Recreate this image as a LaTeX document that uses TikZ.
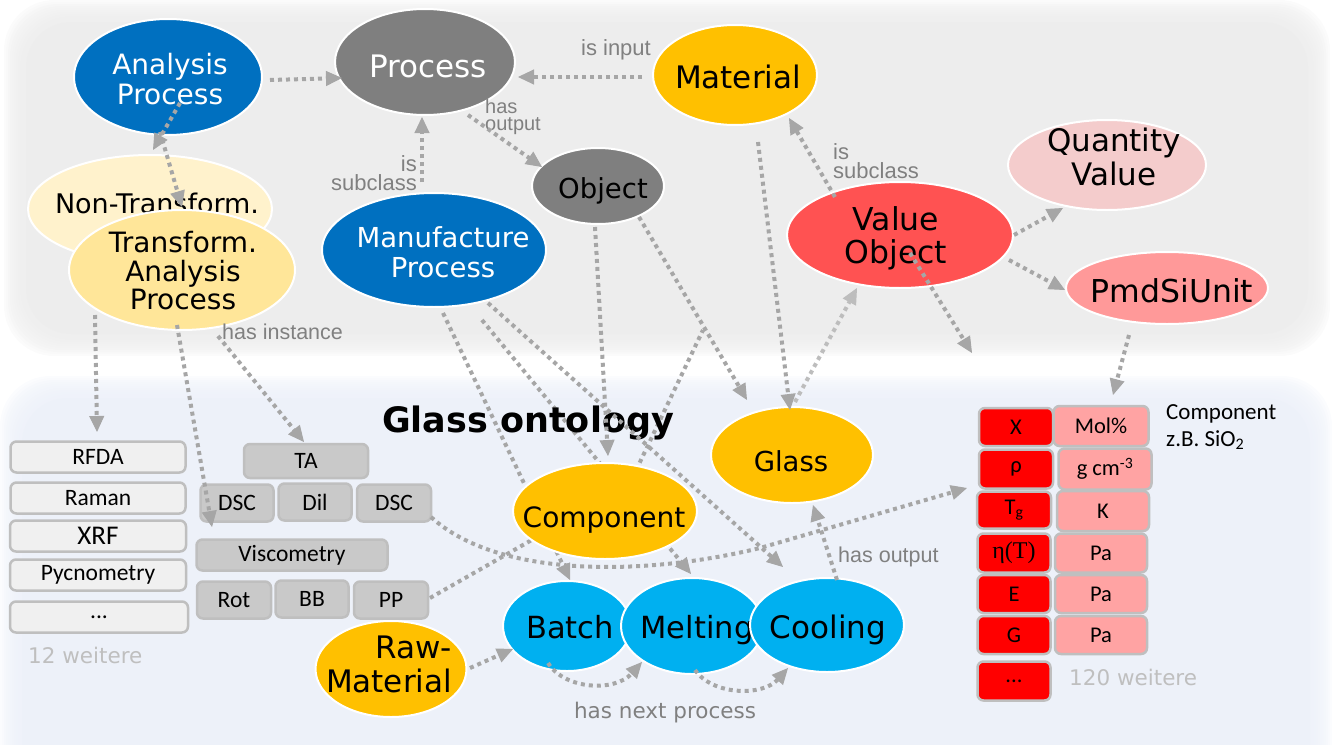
\documentclass[tikz,border=0pt]{standalone}
\usepackage{fontspec}
\setmainfont{DejaVu Sans}
\newfontfamily\vfont{DejaVu Sans}
\newfontfamily\afont{Liberation Sans}
\newfontfamily\cfont{Carlito}
\newfontfamily\sfont{Liberation Serif}
\usetikzlibrary{shapes.geometric,arrows.meta}

\newcommand{\fsz}[2]{\fontsize{#1}{#2}\selectfont}

\definecolor{panelgray}{HTML}{EDEDED}
\definecolor{panelblue}{HTML}{EDF1F9}
\definecolor{cblue}{HTML}{0070C0}
\definecolor{cgray}{HTML}{7F7F7F}
\definecolor{corange}{HTML}{FFC000}
\definecolor{cpale}{HTML}{FFF2CC}
\definecolor{cyell}{HTML}{FFE699}
\definecolor{cred}{HTML}{FF5252}
\definecolor{cqv}{HTML}{F4CCCC}
\definecolor{cunit}{HTML}{FF9999}
\definecolor{ccyan}{HTML}{00B0F0}
\definecolor{lk}{HTML}{A6A6A6}
\definecolor{lklight}{HTML}{BDBDBD}
\definecolor{lbl}{HTML}{808080}
\definecolor{boxline}{HTML}{BFBFBF}
\definecolor{boxlight}{HTML}{F0F0F0}
\definecolor{boxgray}{HTML}{C9C9C9}
\definecolor{cellred}{HTML}{FF0000}
\definecolor{cellpink}{HTML}{FFA3A3}
\definecolor{faint}{HTML}{BFBFBF}

\pgfdeclarelayer{panel}
\pgfdeclarelayer{under}
\pgfdeclarelayer{over}
\pgfsetlayers{panel,under,main,over}

\tikzset{
  ell/.style={ellipse, draw=white, line width=2pt, inner sep=0pt, outer sep=0pt},
  txt/.style={inner sep=0pt, align=center, font=\vfont\fsz{28}{30}},
  lab/.style={inner sep=0pt, text=lbl, font=\afont\fsz{21}{17}},
  lbox/.style={rectangle, rounded corners=6pt, draw=boxline, line width=2.5pt,
    fill=boxlight, inner sep=0pt, font=\cfont\fsz{23.5}{26}},
  gbox/.style={lbox, fill=boxgray},
  rcell/.style={lbox, fill=cellred, font=\cfont\fsz{22.5}{24}},
  pcell/.style={rcell, fill=cellpink},
  link/.style={draw=lk, line width=4pt, dash pattern=on 4pt off 4pt,
    -{Triangle[length=16pt,width=15pt,line width=1pt]}},
  dline/.style={link, -},
}

\begin{document}
\begin{tikzpicture}[x=1pt, y=-1pt]
\useasboundingbox (0,0) rectangle (1332,744);

% soft-edged background panels
\begin{pgfonlayer}{panel}
  \foreach \i in {0,...,10} {
    \fill[panelgray, opacity=0.2, rounded corners=50pt]
      ({4+2*\i},{2*\i}) rectangle ({1330-2*\i},{356-2*\i});
  }
  \fill[panelgray, rounded corners=45pt] (26,22) rectangle (1308,334);
  \foreach \i in {0,...,10} {
    \fill[panelblue, opacity=0.2, rounded corners=50pt]
      ({2*\i},{376+2*\i}) rectangle ({1332-2*\i},790);
  }
  \fill[panelblue, rounded corners=45pt] (22,398) rectangle (1310,790);
\end{pgfonlayer}

% upper ontology
\node[ell, fill=cblue, minimum width=188pt, minimum height=116pt] (ap) at (168,77) {};
\node[txt, text=white] (ap-t) at (170,79) {Analysis\\Process};

\node[ell, fill=cgray, minimum width=180pt, minimum height=106pt] (pr) at (425,62) {};
\node[txt, text=white, anchor=base, font=\vfont\fsz{31}{33}] (pr-t) at (428,77) {Process};

\node[ell, fill=corange, minimum width=164pt, minimum height=100pt] (ma) at (735,75) {};
\node[txt, anchor=base, font=\vfont\fsz{31}{33}] (ma-t) at (738,88) {Material};

\node[ell, fill=cgray, minimum width=132pt, minimum height=76pt] (ob) at (598,186) {};
\node[txt, anchor=base, font=\vfont\fsz{27.5}{30}] (ob-t) at (603,198) {Object};

\node[ell, fill=cblue, minimum width=224pt, minimum height=114pt] (mp) at (434,250) {};
\node[txt, text=white, font=\vfont\fsz{27.5}{30}] (mp-t) at (443,252) {Manufacture\\Process};

\node[ell, fill=cpale, minimum width=244pt, minimum height=108pt] (nt) at (150,209) {};
\node[txt, anchor=base, font=\vfont\fsz{27}{30}] (nt-t) at (157,213) {Non-Transform.};

\node[ell, fill=cyell, minimum width=226pt, minimum height=120pt] (tr) at (182,270) {};
\node[txt, font=\vfont\fsz{28}{28.5}] (tr-t) at (183,271) {Transform.\\Analysis\\Process};

\node[ell, fill=cred, minimum width=226pt, minimum height=106pt] (vo) at (900,235) {};
\node[txt, font=\vfont\fsz{31.5}{33}] (vo-t) at (896,238) {Value\\Object};

\node[ell, fill=cqv, minimum width=198pt, minimum height=90pt] (qv) at (1107,165) {};
\node[txt, font=\vfont\fsz{31}{34}] (qv-t) at (1114,157) {Quantity\\Value};

\node[ell, fill=cunit, minimum width=202pt, minimum height=72pt] (pu) at (1167,288) {};
\node[txt, anchor=base, font=\vfont\fsz{31.5}{33}] (pu-t) at (1172,302) {PmdSiUnit};

% glass ontology
\node[txt, anchor=base, font=\vfont\bfseries\fsz{35}{38}] (title) at (528,432) {Glass ontology};

\node[ell, fill=corange, minimum width=162pt, minimum height=96pt] (gl) at (792,455) {};
\node[txt, anchor=base, font=\vfont\fsz{27.5}{30}] (gl-t) at (791,471) {Glass};

\node[ell, fill=corange, minimum width=184pt, minimum height=96pt] (co) at (605,511) {};
\node[txt, anchor=base, font=\vfont\fsz{28}{30}] (co-t) at (604,527) {Component};

% measurement methods
\node[lbox, minimum width=175pt, minimum height=31pt] (rfda) at (98,457) {RFDA};
\node[lbox, minimum width=175pt, minimum height=31pt] (raman) at (98,498) {Raman};
\node[lbox, minimum width=176pt, minimum height=31pt, font=\cfont\fsz{27}{29}] (xrf) at (98,536) {XRF};
\node[lbox, minimum width=176pt, minimum height=31pt] (pyc) at (98,575) {Pycnometry};
\node[lbox, minimum width=178pt, minimum height=31pt] (more1) at (99,617) {...};
\node[anchor=base west, inner sep=0pt, text=faint, font=\vfont\fsz{21.5}{24}] (w12) at (28,663) {12 weitere};

\node[gbox, minimum width=124pt, minimum height=34pt] (ta) at (306,461) {TA};
\node[gbox, minimum width=73pt, minimum height=37pt] (dsc1) at (237,503) {DSC};
\node[gbox, minimum width=73pt, minimum height=37pt] (dil) at (315,502) {Dil};
\node[gbox, minimum width=74pt, minimum height=37pt] (dsc2) at (394,503) {DSC};
\node[gbox, minimum width=191pt, minimum height=31pt] (visc) at (292,555) {Viscometry};
\node[gbox, minimum width=74pt, minimum height=37pt] (rot) at (234,600) {Rot};
\node[gbox, minimum width=73pt, minimum height=37pt] (bb) at (312,599) {BB};
\node[gbox, minimum width=74pt, minimum height=37pt] (pp) at (391,600) {PP};

% manufacturing chain
\node[ell, fill=corange, minimum width=151pt, minimum height=96pt] (rm) at (391,669) {};
\node[txt, align=right, font=\vfont\fsz{31}{34}] (rm-t) at (389,664) {Raw-\\Material};

\node[ell, fill=ccyan, minimum width=128pt, minimum height=90pt] (ba) at (567,626) {};
\node[txt, anchor=base, font=\vfont\fsz{30.5}{33}] (ba-t) at (570,638) {Batch};
\node[ell, fill=ccyan, minimum width=142pt, minimum height=96pt] (me) at (692,626) {};
\node[txt, anchor=base, font=\vfont\fsz{30.5}{33}] (me-t) at (697,638) {Melting};
\node[ell, fill=ccyan, minimum width=154pt, minimum height=94pt] (cl) at (827,625) {};
\node[txt, anchor=base, font=\vfont\fsz{31}{33}] (cl-t) at (828,638) {Cooling};

% property table
\node[rcell, minimum width=74pt, minimum height=38pt] (px) at (1016,427) {X};
\node[pcell, minimum width=95pt, minimum height=40pt] (mol) at (1101,426) {Mol\%};
\node[rcell, minimum width=74pt, minimum height=39pt] (rho) at (1016,469) {ρ};
\node[pcell, minimum width=93pt, minimum height=41pt] (gcm) at (1105,469) {g cm\textsuperscript{-3}};
\node[rcell, minimum width=74pt, minimum height=37pt] (tg) at (1014,510) {T\textsubscript{g}};
\node[pcell, minimum width=92pt, minimum height=40pt] (kel) at (1103,511) {K};
\node[rcell, minimum width=73pt, minimum height=39pt, font=\sfont\fsz{24}{26}] (eta) at (1014,553) {η(T)};
\node[pcell, minimum width=92pt, minimum height=39pt] (pa1) at (1101,553) {Pa};
\node[rcell, minimum width=73pt, minimum height=38pt] (pe) at (1014,594) {E};
\node[pcell, minimum width=92pt, minimum height=38pt] (pa2) at (1101,594) {Pa};
\node[rcell, minimum width=73pt, minimum height=38pt] (pg) at (1014,635) {G};
\node[pcell, minimum width=92pt, minimum height=38pt] (pa3) at (1101,635) {Pa};
\node[rcell, minimum width=73pt, minimum height=39pt] (more2) at (1014,681) {...};
\node[anchor=base west, inner sep=0pt, text=faint, font=\vfont\fsz{21.5}{24}] (w120) at (1069,685) {120 weitere};
\node[anchor=west, inner sep=0pt, align=left, font=\cfont\fsz{23}{27}] (comp) at (1166,427) {Component\\z.B. SiO\textsubscript{2}};

% relation labels
\node[lab, anchor=base, font=\afont\fsz{22}{22}] (l-in) at (616,55) {is input};
\node[lab, anchor=west, align=left, font=\afont\fsz{20}{17}] (l-out1) at (485,117) {has\\output};
\node[lab, anchor=east, align=right, font=\afont\fsz{22}{19}] (l-sub1) at (417,173) {is\\subclass};
\node[lab, anchor=west, align=left, font=\afont\fsz{22}{19}] (l-sub2) at (833,161) {is\\subclass};
\node[lab, anchor=base west, font=\afont\fsz{21.5}{24}] (l-inst) at (222,339) {has instance};
\node[lab, anchor=base west, font=\afont\fsz{21.5}{24}] (l-out2) at (838,562) {has output};
\node[lab, anchor=base, font=\vfont\fsz{21.5}{24}] (l-next) at (665,718) {has next process};

\coordinate (vofree) at (972,353);
\coordinate (cofree) at (703,330);

% connectors hidden behind nodes
\begin{pgfonlayer}{under}
  \draw[link] ([shift={(9,63)}]mp.center) -- ([shift={(3,-46)}]ba.center);
  \draw[link] ([shift={(48,70)}]mp.center) -- ([shift={(-1,-52)}]me.center);
  \draw[dline] ([shift={(39,-2)}]pp.center) -- ([shift={(-40,10)}]co.center);
  \draw[dline] ([shift={(14,-5)}]co.center) -- (cofree);
\end{pgfonlayer}

% connectors drawn over nodes
\begin{pgfonlayer}{over}
  \draw[link] ([shift={(102,3)}]ap.center) -- ([shift={(-83,16)}]pr.center);
  \draw[link] ([shift={(-93,2)}]ma.center) -- ([shift={(93,15)}]pr.center);
  \draw[link] ([shift={(-12,-68)}]mp.center) -- ([shift={(-3,55)}]pr.center);
  \draw[link] ([shift={(43,53)}]pr.center) -- ([shift={(-56,-19)}]ob.center);
  \draw[link] ([shift={(12,26)}]ap.center) -- ([shift={(3,-59)}]nt.center);
  \draw[link] ([shift={(-8,55)}]ap.center) -- ([shift={(0,-63)}]tr.center);
  \draw[link] ([shift={(-87,45)}]tr.center) -- ([shift={(-1,-25)}]rfda.center);
  \draw[link] ([shift={(-5,55)}]tr.center) -- ([shift={(-80,-28)}]visc.center);
  \draw[link] ([shift={(36,66)}]tr.center) -- ([shift={(-2,-19)}]ta.center);
  \draw[link] ([shift={(54,53)}]mp.center) -- ([shift={(-44,-58)}]cl.center);
  \draw[link] ([shift={(-3,41)}]ob.center) -- ([shift={(3,-55)}]co.center);
  \draw[link] ([shift={(41,31)}]ob.center) -- ([shift={(-45,-55)}]gl.center);
  \draw[link] ([shift={(23,67)}]ma.center) -- ([shift={(-2,-45)}]gl.center);
  \draw[link, draw=lklight] ([shift={(3,-53)}]gl.center) -- ([shift={(-43,53)}]vo.center);
  \draw[link] ([shift={(-65,-38)}]vo.center) -- ([shift={(54,43)}]ma.center);
  \draw[link] ([shift={(114,0)}]vo.center) -- ([shift={(-44,43)}]qv.center);
  \draw[link] ([shift={(109,25)}]vo.center) -- ([shift={(-102,2)}]pu.center);
  \draw[link] ([shift={(10,18)}]vo.center) -- (vofree);
  \draw[link] ([shift={(-38,47)}]pu.center) -- ([shift={(12,-31)}]mol.center);
  \draw[link] ([shift={(10,-45)}]cl.center) -- ([shift={(21,50)}]gl.center);
  \draw[link] ([shift={(79,-1)}]rm.center) -- ([shift={(-54,23)}]ba.center);
  \draw[link] ([shift={(-19,37)}]ba.center) .. controls +(17,27) and +(-27,30) .. ([shift={(-50,36)}]me.center);
  \draw[link] ([shift={(3,44)}]me.center) .. controls +(18,26) and +(-25,28) .. ([shift={(-39,43)}]cl.center);
  \draw[link] ([shift={(37,14)}]dsc2.center) .. controls +(69,63) and +(-110,27) .. ++(329,31)
    -- ([shift={(-47,-22)}]tg.center);
\end{pgfonlayer}
\end{tikzpicture}
\end{document}
